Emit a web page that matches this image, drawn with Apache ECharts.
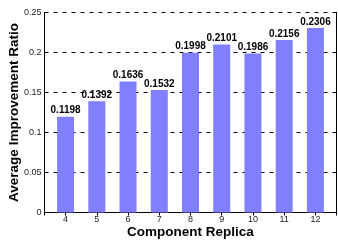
<!DOCTYPE html>
<html>
<head>
<meta charset="utf-8">
<script src="https://cdn.jsdelivr.net/npm/echarts@6/dist/echarts.min.js"></script>
<style>
  html, body { margin: 0; padding: 0; background: #fff; }
  #chart { width: 338px; height: 240px; }
</style>
</head>
<body>
<div id="chart"></div>
<script>
// component replica count on x, ratio on y
const replicas = [4, 5, 6, 7, 8, 9, 10, 11, 12]
const ratios = [0.1198, 0.1392, 0.1636, 0.1532, 0.1998, 0.2101, 0.1986, 0.2156, 0.2306]
const yTicks = [0, 0.05, 0.1, 0.15, 0.2, 0.25]

const font = 'Liberation Sans, Arial, sans-serif'
const xMin = 3.325
const xMax = 12.675

const intLabel = v => (Math.abs(v - Math.round(v)) < 1e-6 ? String(Math.round(v)) : '')

const chart = echarts.init(document.getElementById('chart'), null, { renderer: 'canvas' })
chart.setOption({
  backgroundColor: '#fff',
  animation: false,
  grid: { left: 44.5, right: 1.5, top: 12.5, bottom: 27.5, containLabel: false, outerBoundsMode: 'none' },
  xAxis: [
    {
      type: 'value',
      min: xMin,
      max: xMax,
      splitNumber: 9,
      name: 'Component Replica',
      nameLocation: 'middle',
      nameGap: 12.5,
      nameMoveOverlap: false,
      nameTextStyle: { fontFamily: font, fontSize: 13.5, fontWeight: 'bold', color: '#000' },
      axisLine: { show: true, lineStyle: { color: '#000', width: 1 } },
      axisTick: { show: true, inside: true, length: 3, lineStyle: { color: '#000' } },
      axisLabel: { formatter: intLabel, fontFamily: font, fontSize: 9, color: '#222', margin: 3 },
      splitLine: { show: false }
    },
    {
      type: 'value',
      position: 'top',
      min: xMin,
      max: xMax,
      splitNumber: 9,
      axisLine: { show: true, lineStyle: { color: '#000', width: 1 } },
      axisTick: { show: true, inside: true, length: 3, lineStyle: { color: '#000' } },
      axisLabel: { show: false },
      splitLine: { show: false }
    }
  ],
  yAxis: [
    {
      type: 'value',
      min: yTicks[0],
      max: yTicks[yTicks.length - 1],
      interval: 0.05,
      name: 'Average Improvement Ratio',
      nameLocation: 'middle',
      nameGap: 23,
      nameMoveOverlap: false,
      nameTextStyle: { fontFamily: font, fontSize: 13.5, fontWeight: 'bold', color: '#000' },
      axisLine: { show: true, lineStyle: { color: '#000', width: 1 } },
      axisTick: { show: true, inside: true, length: 3, lineStyle: { color: '#000' } },
      axisLabel: { fontFamily: font, fontSize: 9, color: '#222', margin: 3 },
      splitLine: { show: true, lineStyle: { color: '#000', type: [4, 5], width: 1 } }
    },
    {
      type: 'value',
      position: 'right',
      min: yTicks[0],
      max: yTicks[yTicks.length - 1],
      interval: 0.05,
      axisLine: { show: true, lineStyle: { color: '#000', width: 1 } },
      axisTick: { show: true, inside: true, length: 3, lineStyle: { color: '#000' } },
      axisLabel: { show: false },
      splitLine: { show: false }
    }
  ],
  series: [
    {
      type: 'bar',
      xAxisIndex: 0,
      yAxisIndex: 0,
      barWidth: 17,
      data: replicas.map((r, i) => [r, ratios[i]]),
      itemStyle: { color: '#8080ff' },
      label: {
        show: true,
        position: 'top',
        distance: 1,
        formatter: p => ratios[p.dataIndex].toFixed(4),
        fontFamily: font,
        fontSize: 10,
        fontWeight: 'bold',
        color: '#000'
      }
    }
  ]
})
</script>
</body>
</html>
